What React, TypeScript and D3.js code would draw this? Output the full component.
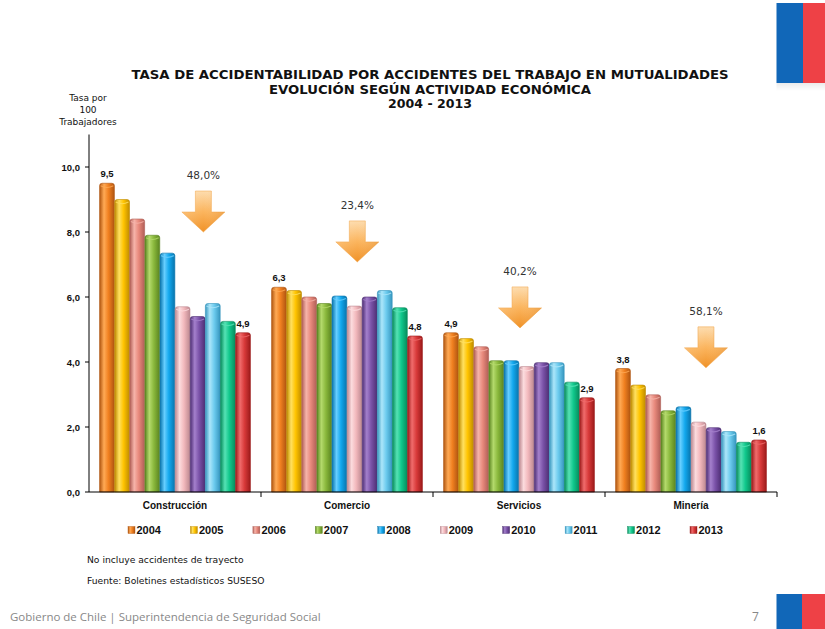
import React from "react";
import * as d3 from "d3";

const categories = ["Construcción", "Comercio", "Servicios", "Minería"];
const years = ["2004", "2005", "2006", "2007", "2008", "2009", "2010", "2011", "2012", "2013"];
const construccion = [9.5, 9.0, 8.4, 7.9, 7.35, 5.7, 5.4, 5.8, 5.25, 4.9];
const comercio = [6.3, 6.2, 6.0, 5.8, 6.03, 5.72, 6.0, 6.2, 5.67, 4.8];
const servicios = [4.9, 4.72, 4.47, 4.04, 4.04, 3.86, 3.98, 3.98, 3.38, 2.9];
const mineria = [3.8, 3.29, 2.99, 2.5, 2.62, 2.15, 1.98, 1.86, 1.53, 1.6];
const seriesByCategory = [construccion, comercio, servicios, mineria];
const yTicks = [0, 2, 4, 6, 8, 10];
const reductionLabels = ["48,0%", "23,4%", "40,2%", "58,1%"];
// arrow annotation: fraction across the category band, value at arrow tip
const arrowFrac = [0.665, 0.56, 0.506, 0.587];
const arrowTip = [8.0, 7.08, 5.05, 3.82];

const yearColors = [
  { base: "#f08020", light: "#ffaa55", dark: "#b05510" },
  { base: "#ffc400", light: "#ffe060", dark: "#c08c00" },
  { base: "#e8897c", light: "#f6b4aa", dark: "#b05e56" },
  { base: "#8ab83c", light: "#b4da6c", dark: "#5a8420" },
  { base: "#12a8ee", light: "#66ceff", dark: "#0874ac" },
  { base: "#f2b8bc", light: "#fcdcde", dark: "#bc8890" },
  { base: "#7a52a8", light: "#a480cc", dark: "#4e2e74" },
  { base: "#6ccbee", light: "#ace6fa", dark: "#3696be" },
  { base: "#10c88c", light: "#56e2b4", dark: "#078c5c" },
  { base: "#d83a3a", light: "#f06c6c", dark: "#9c1a1a" },
];

const fmt = (v: number) => d3.format(".1f")(v).replace(".", ",");

export default function App() {
  const W = 825;
  const H = 629;
  const left = 89;
  const right = 777;
  const base = 492;
  const top = 134.5;

  const x0 = d3.scaleBand<string>().domain(categories).range([left, right]).padding(0);
  const x1 = d3
    .scaleBand<string>()
    .domain(years)
    .range([0, x0.bandwidth()])
    .paddingInner(0.02)
    .paddingOuter(0.7);
  const y = d3.scaleLinear().domain([0, 11]).range([base, top]);
  const legendX = d3.scalePoint<string>().domain(years).range([128, 690]);

  const arrowPath = (cx: number, tipY: number) => {
    const shaftW = 8;
    const headW = 21.5;
    const shaftH = 21;
    const headH = 20;
    const t = tipY - shaftH - headH;
    const p = d3.path();
    p.moveTo(cx - shaftW, t);
    p.lineTo(cx + shaftW, t);
    p.lineTo(cx + shaftW, t + shaftH);
    p.lineTo(cx + headW, t + shaftH);
    p.lineTo(cx, tipY);
    p.lineTo(cx - headW, t + shaftH);
    p.lineTo(cx - shaftW, t + shaftH);
    p.closePath();
    return { d: p.toString(), top: t };
  };

  const sans = "'Liberation Sans', Arial, sans-serif";
  const verd = "'DejaVu Sans', Verdana, sans-serif";

  return (
    <div style={{ position: "fixed", left: 0, top: 0 }}>
      <svg width={W} height={H} style={{ display: "block", background: "#fff" }}>
        <defs>
          {yearColors.map((c, i) => (
            <linearGradient key={i} id={`bar${i}`} x1="0" x2="1" y1="0" y2="0">
              <stop offset="0" stopColor={c.dark} />
              <stop offset="0.3" stopColor={c.light} />
              <stop offset="0.6" stopColor={c.base} />
              <stop offset="1" stopColor={c.dark} />
            </linearGradient>
          ))}
          <linearGradient id="arrowGrad" x1="0" x2="0" y1="0" y2="1">
            <stop offset="0" stopColor="#fddcae" />
            <stop offset="0.5" stopColor="#fbb55e" />
            <stop offset="1" stopColor="#f09228" />
          </linearGradient>
          <linearGradient id="arrowSide" x1="0" x2="1" y1="0" y2="0">
            <stop offset="0" stopColor="#ffffff" stopOpacity="0.15" />
            <stop offset="0.5" stopColor="#ffffff" stopOpacity="0" />
            <stop offset="1" stopColor="#a85000" stopOpacity="0.15" />
          </linearGradient>
          <linearGradient id="flagShadow" x1="0" x2="0" y1="0" y2="1">
            <stop offset="0" stopColor="#000" stopOpacity="0.08" />
            <stop offset="1" stopColor="#000" stopOpacity="0" />
          </linearGradient>
        </defs>

        {/* flags */}
        <rect x={776.5} y={3} width={26.5} height={80} fill="#1167b8" />
        <rect x={803} y={3} width={22} height={80} fill="#ee4146" />
        <rect x={776.5} y={83} width={48.5} height={8} fill="url(#flagShadow)" />
        <rect x={776.5} y={594} width={25.5} height={35} fill="#1167b8" />
        <rect x={802} y={594} width={23} height={35} fill="#ee4146" />

        {/* title */}
        <g fontFamily={verd} fontWeight="bold" fontSize={12.5} fill="#111" textAnchor="middle">
          <text x={430} y={79} textLength={597} lengthAdjust="spacingAndGlyphs">
            TASA DE ACCIDENTABILIDAD POR ACCIDENTES DEL TRABAJO EN MUTUALIDADES
          </text>
          <text x={430} y={93.5} textLength={322} lengthAdjust="spacingAndGlyphs">
            EVOLUCIÓN SEGÚN ACTIVIDAD ECONÓMICA
          </text>
          <text x={430} y={108} textLength={84} lengthAdjust="spacingAndGlyphs">
            2004 - 2013
          </text>
        </g>

        {/* y axis title */}
        <g fontFamily={verd} fontSize={9} fill="#111" textAnchor="middle">
          <text x={88} y={101}>Tasa por</text>
          <text x={88} y={113}>100</text>
          <text x={88} y={125}>Trabajadores</text>
        </g>

        {/* bars */}
        {categories.map((cat, ci) => (
          <g key={cat} transform={`translate(${x0(cat)},0)`}>
            {seriesByCategory[ci].map((v, yi) => {
              const bx = x1(years[yi])!;
              const bw = x1.bandwidth();
              const ty = y(v);
              const c = yearColors[yi];
              return (
                <g key={yi}>
                  <path
                    d={`M${bx},${base} L${bx},${ty + 2.5} Q${bx},${ty} ${bx + 2.5},${ty} L${bx + bw - 2.5},${ty} Q${bx + bw},${ty} ${bx + bw},${ty + 2.5} L${bx + bw},${base} Z`}
                    fill={`url(#bar${yi})`}
                    stroke={c.dark}
                    strokeWidth={0.6}
                  />
                  <path
                    d={`M${bx + 1},${ty + 2.5} Q${bx + bw / 2},${ty + 6} ${bx + bw - 1},${ty + 2.5}`}
                    fill="none"
                    stroke={c.light}
                    strokeWidth={1.2}
                    opacity={0.8}
                  />
                </g>
              );
            })}
            {[0, years.length - 1].map((yi) => (
              <text
                key={yi}
                x={x1(years[yi])! + x1.bandwidth() / 2}
                y={y(seriesByCategory[ci][yi]) - 6}
                textAnchor="middle"
                fontFamily={sans}
                fontWeight="bold"
                fontSize={9.5}
                fill="#111"
              >
                {fmt(seriesByCategory[ci][yi])}
              </text>
            ))}
          </g>
        ))}

        {/* arrows */}
        {categories.map((cat, ci) => {
          const cx = x0(cat)! + x0.bandwidth() * arrowFrac[ci];
          const a = arrowPath(cx, y(arrowTip[ci]));
          return (
            <g key={cat}>
              <path d={a.d} fill="url(#arrowGrad)" stroke="#f0a040" strokeWidth={0.5} />
              <path d={a.d} fill="url(#arrowSide)" />
              <text
                x={cx}
                y={a.top - 12}
                textAnchor="middle"
                fontFamily={verd}
                fontSize={10.5}
                fill="#333"
              >
                {reductionLabels[ci]}
              </text>
            </g>
          );
        })}

        {/* y axis */}
        <line x1={left} x2={left} y1={top} y2={base} stroke="#000" strokeWidth={1} />
        {yTicks.map((t) => (
          <g key={t}>
            <line x1={left - 4} x2={left} y1={y(t)} y2={y(t)} stroke="#000" />
            <text
              x={80}
              y={y(t) + 3.5}
              textAnchor="end"
              fontFamily={sans}
              fontWeight="bold"
              fontSize={9.5}
              fill="#111"
            >
              {fmt(t)}
            </text>
          </g>
        ))}

        {/* x axis */}
        <line x1={left} x2={right} y1={base} y2={base} stroke="#000" strokeWidth={1} />
        {categories.map((cat) => (
          <g key={cat}>
            <line
              x1={x0(cat)! + x0.bandwidth()}
              x2={x0(cat)! + x0.bandwidth()}
              y1={base}
              y2={base + 5}
              stroke="#000"
            />
            <text
              x={x0(cat)! + x0.bandwidth() / 2}
              y={base + 17}
              textAnchor="middle"
              fontFamily={sans}
              fontWeight="bold"
              fontSize={10}
              fill="#111"
            >
              {cat}
            </text>
          </g>
        ))}

        {/* legend */}
        {years.map((yr, i) => {
          const lx = legendX(yr)!;
          return (
            <g key={yr}>
              <rect x={lx} y={526.5} width={7} height={7} fill={`url(#bar${i})`} stroke={yearColors[i].dark} strokeWidth={0.4} />
              <text x={lx + 8.5} y={534} fontFamily={sans} fontWeight="bold" fontSize={11} fill="#111">
                {yr}
              </text>
            </g>
          );
        })}

        {/* notes */}
        <g fontFamily={verd} fontSize={9.2} fill="#111">
          <text x={87} y={563}>No incluye accidentes de trayecto</text>
          <text x={87} y={584}>Fuente: Boletines estadísticos SUSESO</text>
        </g>

        {/* footer */}
        <text x={10} y={621} fontFamily="'Open Sans', sans-serif" fontSize={11.5} fill="#888">
          Gobierno de Chile | Superintendencia de Seguridad Social
        </text>
        <text x={752} y={621} fontFamily="'Open Sans', sans-serif" fontSize={12} fill="#888">
          7
        </text>
      </svg>
    </div>
  );
}
